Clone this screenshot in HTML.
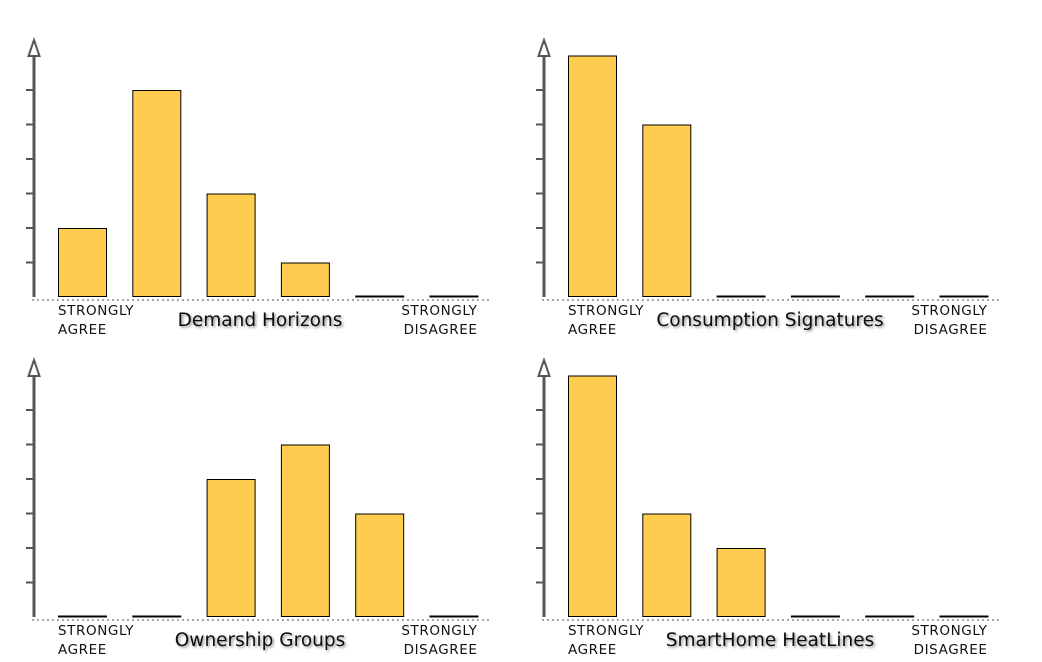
<!DOCTYPE html>
<html><head><meta charset="utf-8"><style>
body{margin:0;background:#fff;}
svg{display:block;}
.lbl{font-family:"DejaVu Sans","Liberation Sans",sans-serif;font-size:13.5px;fill:#111;letter-spacing:0.6px;}
.ttl{font-family:"DejaVu Sans","Liberation Sans",sans-serif;font-size:18.5px;fill:#111;}
</style></head><body>
<svg id="c" width="1042" height="662" xmlns="http://www.w3.org/2000/svg">
<defs><filter id="sh" x="-10%" y="-30%" width="120%" height="160%"><feDropShadow dx="1.5" dy="1.5" stdDeviation="1.2" flood-color="#000" flood-opacity="0.45"/></filter></defs>
</svg>
<script>
const titles = ["Demand Horizons","Consumption Signatures","Ownership Groups","SmartHome HeatLines"];
const categories = ["Strongly agree","Agree","Somewhat agree","Somewhat disagree","Disagree","Strongly disagree"];
const seriesDemand = [2,6,3,1,0,0];
const seriesConsumption = [7,5,0,0,0,0];
const seriesOwnership = [0,0,4,5,3,0];
const seriesSmartHome = [7,3,2,0,0,0];
const allSeries = [seriesDemand,seriesConsumption,seriesOwnership,seriesSmartHome];
const NS="http://www.w3.org/2000/svg";
const svg=document.getElementById('c');
function mk(t,a,p){const e=document.createElementNS(NS,t);for(const k in a)e.setAttribute(k,a[k]);(p||svg).appendChild(e);return e;}
const origins=[[34,297],[544,297],[34,617],[544,617]];
const unit=34.5;
allSeries.forEach((vals,i)=>{
  const [ox,oy]=origins[i];
  const g=mk('g',{});
  
  
  const yS=v=>oy-v*unit;
  const xS=j=>ox+24+j*74.3;
  const ax=mk('line',{x1:ox,y1:oy,x2:ox,y2:oy-242,stroke:'#555','stroke-width':3},g);
  
  
  const ar=mk('polygon',{points:`${ox},${oy-257} ${ox-5.5},${oy-241} ${ox+5.5},${oy-241}`,fill:'#fff',stroke:'#555','stroke-width':2},g);
  
  
  for(let t=1;t<=6;t++){
    const tk=mk('line',{x1:ox-8,y1:yS(t),x2:ox,y2:yS(t),stroke:'#555','stroke-width':2},g);
    
    
  }
  const bl=mk('line',{x1:ox-2,y1:oy+3,x2:ox+456,y2:oy+3,stroke:'#888','stroke-width':1.5,'stroke-dasharray':'2,3'},g);
  
  
  vals.forEach((v,j)=>{
    const x=xS(j);
    if(v>0){
      const r=mk('rect',{x:x+0.5,y:yS(v)+0.5,width:48,height:v*unit-1,fill:'#fecd50',stroke:'#000','stroke-width':1},g);
      
      
    } else {
      const r=mk('line',{x1:x,y1:oy-0.5,x2:x+49,y2:oy-0.5,stroke:'#000','stroke-width':2},g);
      
      
    }
  });
  [[xS(0),'AGREE','start'],[xS(5)+48,'DISAGREE','end']].forEach(([x,w,anc],k)=>{
    const t=mk('text',{x:x,y:oy+18,class:'lbl','text-anchor':anc},g);
    t.textContent='STRONGLY';
    
    
    const t2=mk('text',{x:x,y:oy+37,class:'lbl','text-anchor':anc},g);
    t2.textContent=w;
    
    
  });
  const tt=mk('text',{x:ox+226,y:oy+29,class:'ttl','text-anchor':'middle',filter:'url(#sh)'},g);
  tt.textContent=titles[i];
  
  
});
</script>
</body></html>
